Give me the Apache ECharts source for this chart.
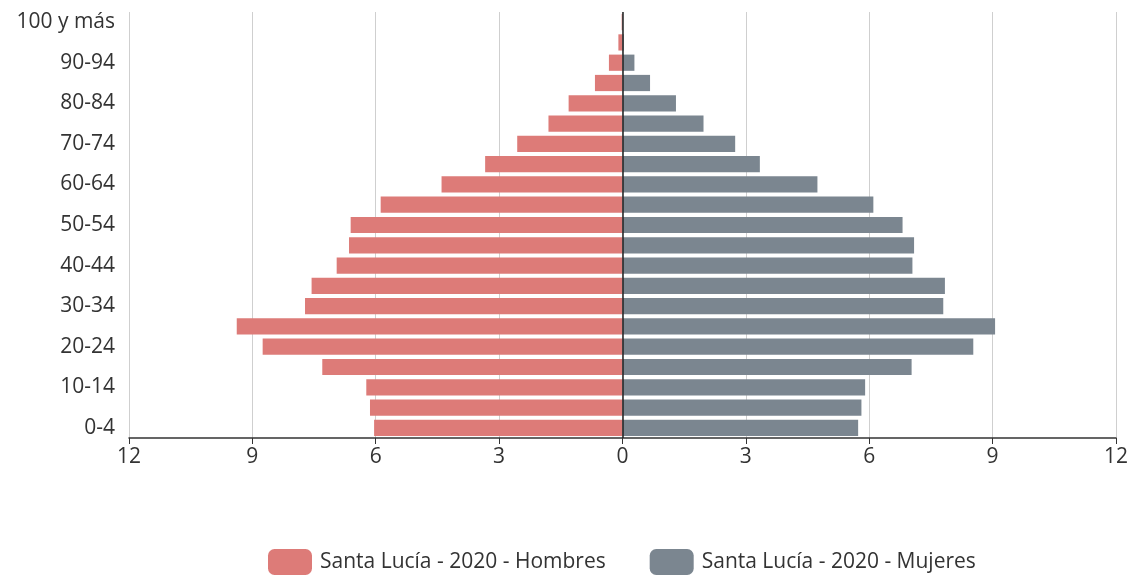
<!DOCTYPE html>
<html>
<head>
<meta charset="utf-8">
<script src="https://cdn.jsdelivr.net/npm/echarts@6/dist/echarts.min.js"></script>
<style>html,body{margin:0;padding:0;background:#fff;}#c{width:1131px;height:576px;}</style>
</head>
<body>
<div id="c"></div>
<script>
var categories = ['0-4','5-9','10-14','15-19','20-24','25-29','30-34','35-39','40-44','45-49','50-54','55-59','60-64','65-69','70-74','75-79','80-84','85-89','90-94','95-99','100 y más'];
var hombres = [6.04, 6.14, 6.23, 7.30, 8.75, 9.38, 7.72, 7.56, 6.95, 6.65, 6.61, 5.88, 4.40, 3.34, 2.56, 1.80, 1.31, 0.67, 0.33, 0.10, 0.02];
var mujeres = [5.73, 5.81, 5.90, 7.03, 8.53, 9.06, 7.80, 7.84, 7.05, 7.09, 6.81, 6.10, 4.74, 3.34, 2.74, 1.97, 1.30, 0.67, 0.29, 0.03, 0.01];
var xTicks = [-12, -9, -6, -3, 0, 3, 6, 9, 12];
var seriesNames = ['Santa Lucía - 2020 - Hombres', 'Santa Lucía - 2020 - Mujeres'];

var FONT = '"Open Sans", "Noto Sans", sans-serif';
var chart = echarts.init(document.getElementById('c'), null, {renderer: 'canvas'});
chart.setOption({
  animation: false,
  textStyle: {fontFamily: FONT},
  grid: {left: 129, right: 14, top: 12, bottom: 138, containLabel: false},
  legend: {
    top: 544, left: 263,
    itemWidth: 44, itemHeight: 26, itemGap: 44,
    icon: 'roundRect',
    textStyle: {fontSize: 21, color: '#333', fontFamily: FONT, padding: [0, 0, 0, 3]},
    data: seriesNames
  },
  xAxis: {
    type: 'value', min: xTicks[0], max: xTicks[xTicks.length - 1], interval: 3,
    axisLine: {show: true, onZero: false, lineStyle: {color: '#333', width: 1.5}},
    axisTick: {show: true, length: 6, lineStyle: {color: '#333'}},
    axisLabel: {fontSize: 21, color: '#333', margin: 9, formatter: function (v) { return Math.abs(v); }},
    splitLine: {show: true, lineStyle: {color: '#cfcfcf', width: 1}}
  },
  yAxis: {
    type: 'category', data: categories,
    axisLine: {show: false},
    axisTick: {show: false},
    axisLabel: {interval: 1, fontSize: 21, color: '#333', margin: 14}
  },
  series: [
    {
      name: seriesNames[0], type: 'bar', stack: 'p', barCategoryGap: '20%',
      itemStyle: {color: '#dd7b78'},
      data: hombres.map(function (v) { return -v; }),
      markLine: {
        silent: true, symbol: 'none', label: {show: false},
        lineStyle: {color: '#222', width: 1.5, type: 'solid'},
        data: [{xAxis: 0}]
      }
    },
    {
      name: seriesNames[1], type: 'bar', stack: 'p', barCategoryGap: '20%',
      itemStyle: {color: '#7b8690'},
      data: mujeres
    }
  ]
});
</script>
</body>
</html>
